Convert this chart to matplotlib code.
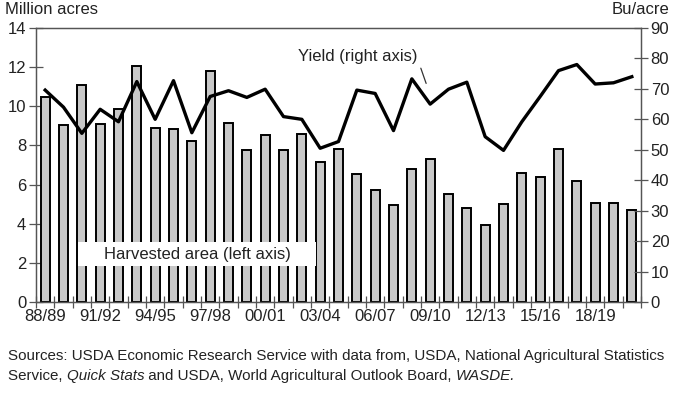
import matplotlib.pyplot as plt
from matplotlib.patches import Rectangle

plt.rcParams['font.family'] = ['Liberation Sans', 'DejaVu Sans']

# ------------------------------------------------------------
# Data
# ------------------------------------------------------------

years = ["88/89", "89/90", "90/91", "91/92", "92/93", "93/94", "94/95", "95/96",
         "96/97", "97/98", "98/99", "99/00", "00/01", "01/02", "02/03", "03/04",
         "04/05", "05/06", "06/07", "07/08", "08/09", "09/10", "10/11", "11/12",
         "12/13", "13/14", "14/15", "15/16", "16/17", "17/18", "18/19", "19/20",
         "20/21"]

# harvested area, million acres (left axis)
area = [10.5, 9.05, 11.1, 9.1, 9.85, 12.05, 8.9, 8.85,
        8.25, 11.8, 9.15, 7.75, 8.55, 7.75, 8.6, 7.15,
        7.8, 6.54, 5.72, 4.96, 6.78, 7.32, 5.52, 4.8,
        3.93, 5.0, 6.57, 6.37, 7.8, 6.17, 5.07, 5.07,
        4.72]

# yield, bu/acre (right axis)
yld = [69.6, 64.0, 55.4, 63.3, 59.2, 72.4, 60.0, 72.7,
       55.6, 67.5, 69.4, 67.2, 69.9, 60.9, 60.0, 50.5,
       52.7, 69.6, 68.5, 56.3, 73.3, 65.0, 69.9, 72.2,
       54.3, 49.8, 59.2, 67.5, 76.0, 78.0, 71.6, 72.0,
       74.0]

x = list(range(len(years)))
label_every = 3

# ------------------------------------------------------------
# Plot
# ------------------------------------------------------------

fig = plt.figure(figsize=(6.8, 3.94), dpi=100)
ax = fig.add_axes([36/680, 1 - 302/394, 605/680, 274/394])
ax2 = ax.twinx()

text_col = "#222222"
spine_col = "#555555"
fs = 12

ax.bar(x, area, width=0.5, color="#c8c8c8", edgecolor="black",
       linewidth=1.4, zorder=2)

ax2.plot(x, yld, color="black", linewidth=2.4, zorder=3)

# white box behind the area label
ax.add_patch(Rectangle((1.79, 1.84), 12.99, 1.23, facecolor="white",
                       edgecolor="none", zorder=4))
ax.text(8.28, 2.42, "Harvested area (left axis)", ha="center", va="center",
        fontsize=fs, color=text_col, zorder=5)

# yield label with a short leader line
ax2.text(17.07, 80.5, "Yield (right axis)", ha="center", va="center",
         fontsize=fs, color=text_col)
ax2.annotate("", xy=(20.78, 71.8), xytext=(20.49, 76.8),
             arrowprops=dict(arrowstyle="-", color="#333333", lw=0.9,
                             shrinkA=0, shrinkB=0))

# axes
ax.set_xlim(-0.5, len(years) - 0.5)
ax.set_ylim(0, 14)
ax.set_yticks(range(0, 15, 2))
ax2.set_ylim(0, 90)
ax2.set_yticks(range(0, 91, 10))

ax.set_xticks([i - 0.5 for i in range(len(years) + 1)])
ax.set_xticklabels([])
ax.set_xticks(x[::label_every], minor=True)
ax.set_xticklabels(years[::label_every], minor=True)
ax.tick_params(axis="x", which="major", direction="inout", length=8,
               width=0.9, color=spine_col)
ax.tick_params(axis="x", which="minor", length=0, labelsize=fs,
               labelcolor=text_col, pad=5)
ax.tick_params(axis="y", direction="inout", length=10, width=0.9,
               color=spine_col, labelsize=fs, labelcolor=text_col, pad=2)
ax2.tick_params(axis="y", direction="inout", length=10, width=0.9,
                color=spine_col, labelsize=fs, labelcolor=text_col, pad=2)

for a in (ax, ax2):
    for s in a.spines.values():
        s.set_color(spine_col)
        s.set_linewidth(0.9)

fig.text(5/680, 1 - 10/394, "Million acres", ha="left", va="center",
         fontsize=fs, color=text_col)
fig.text(669/680, 1 - 10/394, "Bu/acre", ha="right", va="center",
         fontsize=fs, color=text_col)

# source note, with italic parts chained one after another
src_fs = 10.9
fig.text(8/680, 1 - 356/394,
         "Sources: USDA Economic Research Service with data from, USDA, "
         "National Agricultural Statistics",
         ha="left", va="center", fontsize=src_fs, color=text_col)
pieces = [("Service, ", "normal"), ("Quick Stats", "italic"),
          (" and USDA, World Agricultural Outlook Board, ", "normal"),
          ("WASDE.", "italic")]
anchor = fig.text(8/680, 1 - 376/394, pieces[0][0], ha="left", va="center",
                  fontsize=src_fs, color=text_col)
for txt, style in pieces[1:]:
    anchor = fig.add_artist(plt.Annotation(
        txt, xy=(1, 0), xycoords=anchor, xytext=(0, 0),
        textcoords="offset points", ha="left", va="bottom",
        fontsize=src_fs, color=text_col, style=style))

fig.savefig("out.png", dpi=100)
